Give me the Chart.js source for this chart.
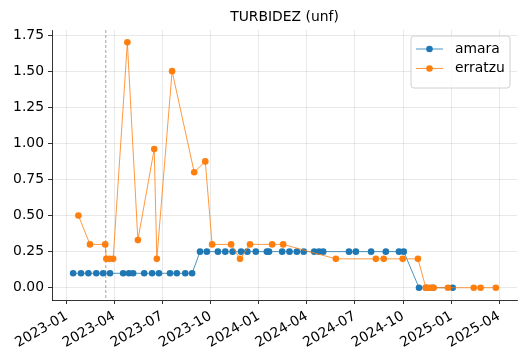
<!DOCTYPE html>
<html>
<head>
<meta charset="utf-8">
<title>TURBIDEZ (unf)</title>
<script src="https://cdn.jsdelivr.net/npm/chart.js@4.4.1/dist/chart.umd.min.js"></script>
<style>
  html, body { margin: 0; padding: 0; background: #fff; }
  #wrap { width: 527px; height: 361px; }
</style>
</head>
<body>
<div id="wrap"><canvas id="turbChart" width="527" height="361"></canvas></div>
<script>
const chartTitle = "TURBIDEZ (unf)";
const seriesNames = ["amara", "erratzu"];
const seriesColors = ["#1f77b4", "#ff7f0e"];

// amara samples
const amaraDates = [
  "2023-01-13", "2023-01-28", "2023-02-11", "2023-02-26", "2023-03-11", "2023-03-24",
  "2023-04-18", "2023-04-29", "2023-05-07", "2023-05-28", "2023-06-12", "2023-06-25",
  "2023-07-16", "2023-07-29", "2023-08-14", "2023-08-27", "2023-09-11", "2023-09-24",
  "2023-10-15", "2023-10-29", "2023-11-12", "2023-11-28", "2023-12-10", "2023-12-26",
  "2024-01-16", "2024-01-20", "2024-02-14", "2024-02-28", "2024-03-13", "2024-03-26",
  "2024-04-15", "2024-04-24", "2024-05-02", "2024-06-20", "2024-07-03", "2024-08-01",
  "2024-08-29", "2024-09-23", "2024-10-02", "2024-10-31", "2024-11-13", "2024-11-26",
  "2025-01-03"
];
const amaraValues = [
  0.1, 0.1, 0.1, 0.1, 0.1, 0.1,
  0.1, 0.1, 0.1, 0.1, 0.1, 0.1,
  0.1, 0.1, 0.1, 0.1, 0.25, 0.25,
  0.25, 0.25, 0.25, 0.25, 0.25, 0.25,
  0.25, 0.25, 0.25, 0.25, 0.25, 0.25,
  0.25, 0.25, 0.25, 0.25, 0.25, 0.25,
  0.25, 0.25, 0.25, 0, 0, 0,
  0
];

// erratzu samples
const erratzuDates = [
  "2023-01-23", "2023-02-14", "2023-03-15", "2023-03-17", "2023-03-23", "2023-03-30",
  "2023-04-26", "2023-05-16", "2023-06-16", "2023-06-21", "2023-07-20", "2023-08-31",
  "2023-09-21", "2023-10-04", "2023-11-09", "2023-11-26", "2023-12-15", "2024-01-26",
  "2024-02-16", "2024-05-26", "2024-08-10", "2024-08-25", "2024-09-30", "2024-10-29",
  "2024-11-13", "2024-11-17", "2024-11-21", "2024-11-28", "2024-12-25", "2025-02-12",
  "2025-02-25", "2025-03-26"
];
const erratzuValues = [
  0.5, 0.3, 0.3, 0.2, 0.2, 0.2,
  1.7, 0.33, 0.96, 0.2, 1.5, 0.8,
  0.875, 0.3, 0.3, 0.2, 0.3, 0.3,
  0.3, 0.2, 0.2, 0.2, 0.2, 0.2,
  0, 0, 0, 0, 0, 0,
  0, 0
];

const xTickLabels = [
  "2023-01", "2023-04", "2023-07", "2023-10", "2024-01",
  "2024-04", "2024-07", "2024-10", "2025-01", "2025-04"
];
const yTickValues = [0, 0.25, 0.5, 0.75, 1.0, 1.25, 1.5, 1.75];
const markerDate = "2023-03-16"; // dashed vertical line

const FONT = "DejaVu Sans";
const FONT_SIZE = 13.9;
Chart.defaults.font.family = FONT;
Chart.defaults.color = "#000";

function toPoints(dates, values) {
  return dates.map((d, i) => ({ x: Date.parse(d), y: values[i] }));
}

const amaraPts = toPoints(amaraDates, amaraValues);
const erratzuPts = toPoints(erratzuDates, erratzuValues);

// matplotlib style 5% margins
const allX = amaraPts.concat(erratzuPts).map(p => p.x);
const allY = amaraValues.concat(erratzuValues);
const xLo = Math.min(...allX), xHi = Math.max(...allX);
const yLo = Math.min(...allY), yHi = Math.max(...allY);
const xPad = (xHi - xLo) * 0.05, yPad = (yHi - yLo) * 0.05;

const gridColor = "rgba(176,176,176,0.35)";

const decor = {
  id: "decor",
  beforeDatasetsDraw(chart) {
    const { ctx, chartArea } = chart;
    const x = chart.scales.x.getPixelForValue(Date.parse(markerDate));
    ctx.save();
    ctx.strokeStyle = "rgba(128,128,128,0.9)";
    ctx.lineWidth = 0.8;
    ctx.setLineDash([3, 2]);
    ctx.beginPath();
    ctx.moveTo(x, chartArea.top);
    ctx.lineTo(x, chartArea.bottom);
    ctx.stroke();
    ctx.restore();
  },
  afterDraw(chart) {
    const { ctx, chartArea } = chart;
    ctx.save();
    // title
    ctx.fillStyle = "#000";
    ctx.font = FONT_SIZE + "px '" + FONT + "'";
    ctx.textAlign = "center";
    ctx.textBaseline = "middle";
    ctx.fillText(chartTitle, (chartArea.left + chartArea.right) / 2, 17);

    // legend box
    const bx = 411, by = 36, bw = 99, bh = 52, r = 3;
    ctx.beginPath();
    ctx.moveTo(bx + r, by);
    ctx.arcTo(bx + bw, by, bx + bw, by + bh, r);
    ctx.arcTo(bx + bw, by + bh, bx, by + bh, r);
    ctx.arcTo(bx, by + bh, bx, by, r);
    ctx.arcTo(bx, by, bx + bw, by, r);
    ctx.closePath();
    ctx.fillStyle = "rgba(255,255,255,0.8)";
    ctx.fill();
    ctx.strokeStyle = "#d0d0d0";
    ctx.lineWidth = 1;
    ctx.stroke();

    ctx.font = FONT_SIZE + "px '" + FONT + "'";
    ctx.textAlign = "left";
    seriesNames.forEach((name, i) => {
      const y = 49 + i * 19.5;
      ctx.strokeStyle = seriesColors[i];
      ctx.lineWidth = 0.8;
      ctx.beginPath();
      ctx.moveTo(416, y);
      ctx.lineTo(443, y);
      ctx.stroke();
      ctx.fillStyle = seriesColors[i];
      ctx.beginPath();
      ctx.arc(429.5, y, 3.3, 0, Math.PI * 2);
      ctx.fill();
      ctx.fillStyle = "#000";
      ctx.fillText(name, 455, y);
    });
    ctx.restore();
  }
};

const ctx = document.getElementById("turbChart").getContext("2d");
new Chart(ctx, {
  type: "line",
  data: {
    datasets: [
      {
        label: seriesNames[0],
        data: amaraPts,
        borderColor: seriesColors[0],
        backgroundColor: seriesColors[0],
        borderWidth: 0.8,
        pointRadius: 3.3,
        pointBorderWidth: 0,
        tension: 0,
        order: 2
      },
      {
        label: seriesNames[1],
        data: erratzuPts,
        borderColor: seriesColors[1],
        backgroundColor: seriesColors[1],
        borderWidth: 0.8,
        pointRadius: 3.3,
        pointBorderWidth: 0,
        tension: 0,
        order: 1
      }
    ]
  },
  options: {
    responsive: false,
    animation: false,
    devicePixelRatio: 1,
    layout: { padding: { top: 30, right: 10, bottom: 0, left: 0 } },
    plugins: {
      legend: { display: false },
      tooltip: { enabled: false },
      title: { display: false }
    },
    scales: {
      x: {
        type: "linear",
        min: xLo - xPad,
        max: xHi + xPad,
        afterBuildTicks(scale) {
          scale.ticks = xTickLabels.map(l => ({ value: Date.parse(l + "-01") }));
        },
        afterFit(scale) {
          scale.height = 61;
          scale.paddingLeft = 0;
          scale.paddingRight = 0;
        },
        ticks: {
          autoSkip: false,
          minRotation: 30,
          maxRotation: 30,
          padding: 4,
          font: { size: FONT_SIZE },
          callback: (v, i) => xTickLabels[i]
        },
        grid: {
          color: gridColor,
          lineWidth: 0.8,
          tickColor: "#000",
          tickLength: 4,
          tickWidth: 0.8
        },
        border: { display: true, color: "#000", width: 0.8 }
      },
      y: {
        type: "linear",
        min: yLo - yPad,
        max: yHi + yPad,
        afterBuildTicks(scale) {
          scale.ticks = yTickValues.map(v => ({ value: v }));
        },
        afterFit(scale) {
          scale.width = 52;
          scale.paddingTop = 0;
          scale.paddingBottom = 0;
        },
        ticks: {
          padding: 4,
          font: { size: FONT_SIZE },
          callback: v => v.toFixed(2)
        },
        grid: {
          color: gridColor,
          lineWidth: 0.8,
          tickColor: "#000",
          tickLength: 4,
          tickWidth: 0.8
        },
        border: { display: true, color: "#000", width: 0.8 }
      }
    }
  },
  plugins: [decor]
});
</script>
</body>
</html>
